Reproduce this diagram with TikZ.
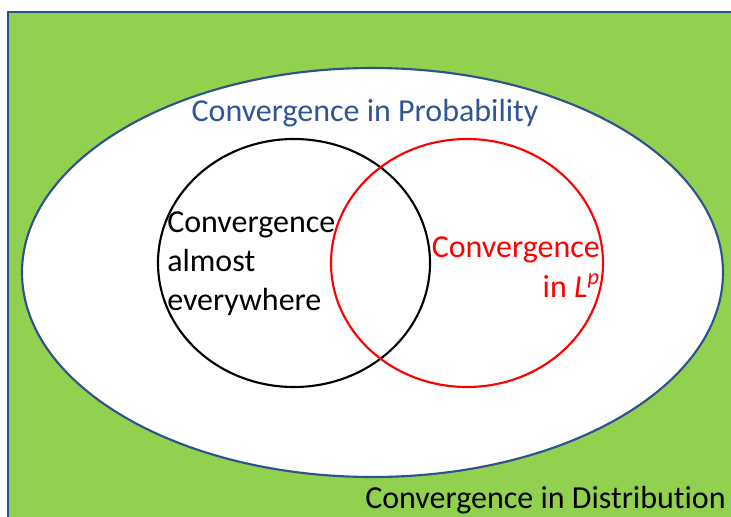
\documentclass[tikz,border=0pt]{standalone}
\usepackage{fontspec}
\setmainfont{Carlito}[Ligatures=CommonOff]
\definecolor{fieldgreen}{RGB}{146,208,80}
\definecolor{edgeblue}{RGB}{47,82,143}
\definecolor{textblue}{RGB}{47,85,151}

\begin{document}
\begin{tikzpicture}[
  x=0.75pt, y=-0.75pt,
  lbl/.style={font=\fontsize{24}{28.9}\selectfont, inner sep=0pt},
  ring/.style={line width=1.6pt}
]
\useasboundingbox (0,0) rectangle (731,517);
\clip (0,0) rectangle (731,517);

% ---- outer field: distribution ----
\draw[ring, fill=fieldgreen, draw=edgeblue] (8,12) rectangle (760,540);
\node[lbl, anchor=base west] (dist) at (365,508) {Convergence in Distribution};

% ---- probability ellipse ----
\draw[ring, fill=white, draw=edgeblue] (372.5,272.5) ellipse (350.5 and 204.5);
\node[lbl, text=textblue, anchor=base] (prob) at (365,121) {Convergence in Probability};

% ---- almost everywhere (black) ----
\draw[ring, black] (294,263) ellipse (136 and 124);
\node[lbl, align=left, anchor=base west] (ae) at (167,310)
  {Convergence\\almost\\everywhere};

% ---- L^p (red) ----
\draw[ring, red] (467,263) ellipse (136 and 124);
\node[lbl, text=red, align=right, anchor=base east,
  font=\fontsize{24}{30}\selectfont] (lp) at (600,297)
  {Convergence\\in \textit{L}\textsuperscript{\textit{p}}};
\end{tikzpicture}
\end{document}
